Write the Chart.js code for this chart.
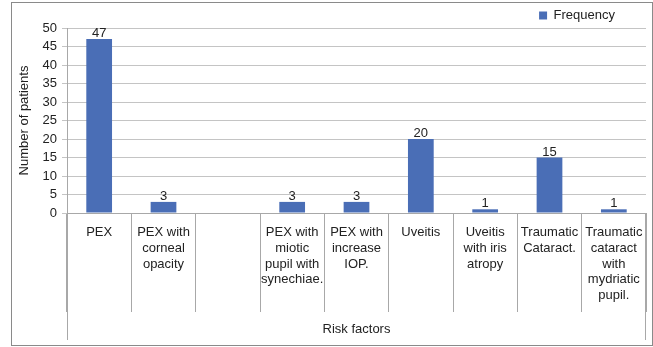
<!DOCTYPE html>
<html>
<head>
<meta charset="utf-8">
<title>Risk factors</title>
<script src="https://cdn.jsdelivr.net/npm/chart.js@4.4.1/dist/chart.umd.min.js"></script>
<style>
  body { margin: 0; background: #fff; }
  #grafico { display: block; }
</style>
</head>
<body>
<canvas id="grafico" width="653" height="347"></canvas>
<script>
// categorias (cada uma em linhas, como no original)
const categorias = [
    ['PEX'],
    ['PEX with', 'corneal', 'opacity'],
    [''],
    ['PEX with', 'miotic', 'pupil with', 'synechiae.'],
    ['PEX with', 'increase', 'IOP.'],
    ['Uveitis'],
    ['Uveitis', 'with iris', 'atropy'],
    ['Traumatic', 'Cataract.'],
    ['Traumatic', 'cataract', 'with', 'mydriatic', 'pupil.']
]

// valores da serie
const frequencia = [47, 3, null, 3, 3, 20, 1, 15, 1]

// eixo y
const yMin = 0
const yMax = 50
const yPasso = 5

const fonte = 'Liberation Sans, Arial, sans-serif'
const corTexto = '#222'
const corBarra = '#4a6eb6'
const corGrade = '#c4c4c4'
const corEixo = '#a8a8a8'

// moldura em volta do grafico
const moldura = {
    id: 'moldura',
    beforeDraw(chart) {
        const ctx = chart.ctx
        ctx.save()
        ctx.strokeStyle = '#8a8a8a'
        ctx.lineWidth = 1
        ctx.strokeRect(11.5, 2.5, 641, 343)
        ctx.restore()
    }
}

// linhas externas do eixo de categorias (mais longas)
const linhasExternas = {
    id: 'linhasExternas',
    afterDraw(chart) {
        const ctx = chart.ctx
        const area = chart.chartArea
        ctx.save()
        ctx.strokeStyle = corEixo
        ctx.lineWidth = 1
        ctx.beginPath()
        ctx.moveTo(Math.round(area.left) + 0.5, area.bottom)
        ctx.lineTo(Math.round(area.left) + 0.5, 340)
        ctx.moveTo(Math.round(area.right) - 0.5, area.bottom)
        ctx.lineTo(Math.round(area.right) - 0.5, 340)
        ctx.stroke()
        ctx.restore()
    }
}

// rotulos de valor em cima das barras
const rotulos = {
    id: 'rotulos',
    afterDatasetsDraw(chart) {
        const ctx = chart.ctx
        const meta = chart.getDatasetMeta(0)
        ctx.save()
        ctx.font = '13px ' + fonte
        ctx.fillStyle = corTexto
        ctx.textAlign = 'center'
        ctx.textBaseline = 'alphabetic'
        meta.data.forEach((barra, i) => {
            const v = frequencia[i]
            if (v === null) return
            ctx.fillText(String(v), barra.x, barra.y - 2)
        })
        ctx.restore()
    }
}

// legenda fica no canto de cima, um pouco deslocada
const posLegenda = {
    id: 'posLegenda',
    afterLayout(chart) {
        const lg = chart.legend
        lg.top += 4
        lg.bottom += 4
        lg.left -= 28
        lg.right -= 28
    }
}

const ctx = document.getElementById('grafico').getContext('2d')
new Chart(ctx, {
    type: 'bar',
    data: {
        labels: categorias,
        datasets: [{
            label: 'Frequency',
            data: frequencia,
            backgroundColor: corBarra,
            borderWidth: 0,
            categoryPercentage: 1,
            barPercentage: 0.4
        }]
    },
    options: {
        responsive: false,
        animation: false,
        layout: { padding: { left: 11, right: 7, top: 2, bottom: 10 } },
        plugins: {
            legend: {
                display: true,
                position: 'top',
                align: 'end',
                labels: {
                    boxWidth: 8,
                    boxHeight: 8,
                    padding: 3,
                    color: corTexto,
                    font: { family: fonte, size: 13 }
                }
            },
            tooltip: { enabled: false }
        },
        scales: {
            x: {
                offset: true,
                grid: {
                    offset: true,
                    drawOnChartArea: false,
                    drawTicks: true,
                    tickLength: 99,
                    color: corEixo
                },
                border: { display: true, color: corEixo },
                ticks: {
                    autoSkip: false,
                    maxRotation: 0,
                    minRotation: 0,
                    padding: -87,
                    color: corTexto,
                    font: { family: fonte, size: 13, lineHeight: 1.2 }
                },
                title: {
                    display: true,
                    text: 'Risk factors',
                    color: corTexto,
                    padding: { top: 0, bottom: 0 },
                    font: { family: fonte, size: 13 }
                },
                afterFit(scale) { scale.height = 124 }
            },
            y: {
                min: yMin,
                max: yMax,
                grid: {
                    color: corGrade,
                    tickLength: 5
                },
                border: { display: true, color: corEixo },
                ticks: {
                    stepSize: yPasso,
                    autoSkip: false,
                    padding: 5,
                    color: corTexto,
                    font: { family: fonte, size: 13 }
                },
                title: {
                    display: true,
                    text: 'Number of patients',
                    color: corTexto,
                    padding: { top: 6, bottom: 0 },
                    font: { family: fonte, size: 13 }
                },
                afterFit(scale) { scale.width = 56 }
            }
        }
    },
    plugins: [moldura, linhasExternas, rotulos, posLegenda]
})
</script>
</body>
</html>
